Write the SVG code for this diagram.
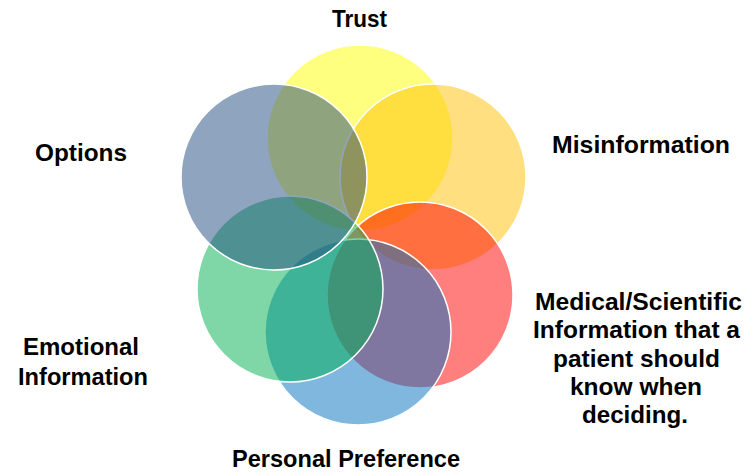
<svg xmlns="http://www.w3.org/2000/svg" width="748" height="474" viewBox="0 0 748 474">
<style>
.c{fill-opacity:0.5;stroke:#ffffff;stroke-width:1.5}
.t{font-family:"Liberation Sans",Arial,sans-serif;font-weight:bold;font-size:24px;fill:#000000;text-anchor:middle}
</style>
<rect width="748" height="474" fill="#ffffff"/>
<g id="trust"><circle class="c" cx="360" cy="138" r="93" fill="#FFFF00"/><text class="t" x="359.5" y="27" textLength="55" lengthAdjust="spacingAndGlyphs">Trust</text></g>
<g id="misinformation"><circle class="c" cx="433" cy="177" r="93" fill="#FFC000"/><text class="t" x="641" y="153" textLength="178" lengthAdjust="spacingAndGlyphs">Misinformation</text></g>
<g id="medical"><circle class="c" cx="420" cy="295" r="93" fill="#FF0000"/>
<text class="t" x="638.5" y="310" textLength="207" lengthAdjust="spacingAndGlyphs">Medical/Scientific</text>
<text class="t" x="636.5" y="338" textLength="207" lengthAdjust="spacingAndGlyphs">Information that a</text>
<text class="t" x="636.5" y="367" textLength="167" lengthAdjust="spacingAndGlyphs">patient should</text>
<text class="t" x="636" y="395" textLength="132" lengthAdjust="spacingAndGlyphs">know when</text>
<text class="t" x="635" y="423" textLength="106" lengthAdjust="spacingAndGlyphs">deciding.</text></g>
<g id="personal"><circle class="c" cx="358" cy="332" r="93" fill="#0070C0"/><text class="t" x="346" y="467" textLength="228" lengthAdjust="spacingAndGlyphs">Personal Preference</text></g>
<g id="emotional"><circle class="c" cx="290" cy="289" r="93" fill="#00B050"/>
<text class="t" x="81" y="355" textLength="116" lengthAdjust="spacingAndGlyphs">Emotional</text>
<text class="t" x="83" y="385" textLength="130" lengthAdjust="spacingAndGlyphs">Information</text></g>
<g id="options"><circle class="c" cx="274" cy="177" r="93" fill="#1F497D"/><text class="t" x="81" y="161" textLength="92" lengthAdjust="spacingAndGlyphs">Options</text></g>
<g id="connectors"></g>
</svg>
